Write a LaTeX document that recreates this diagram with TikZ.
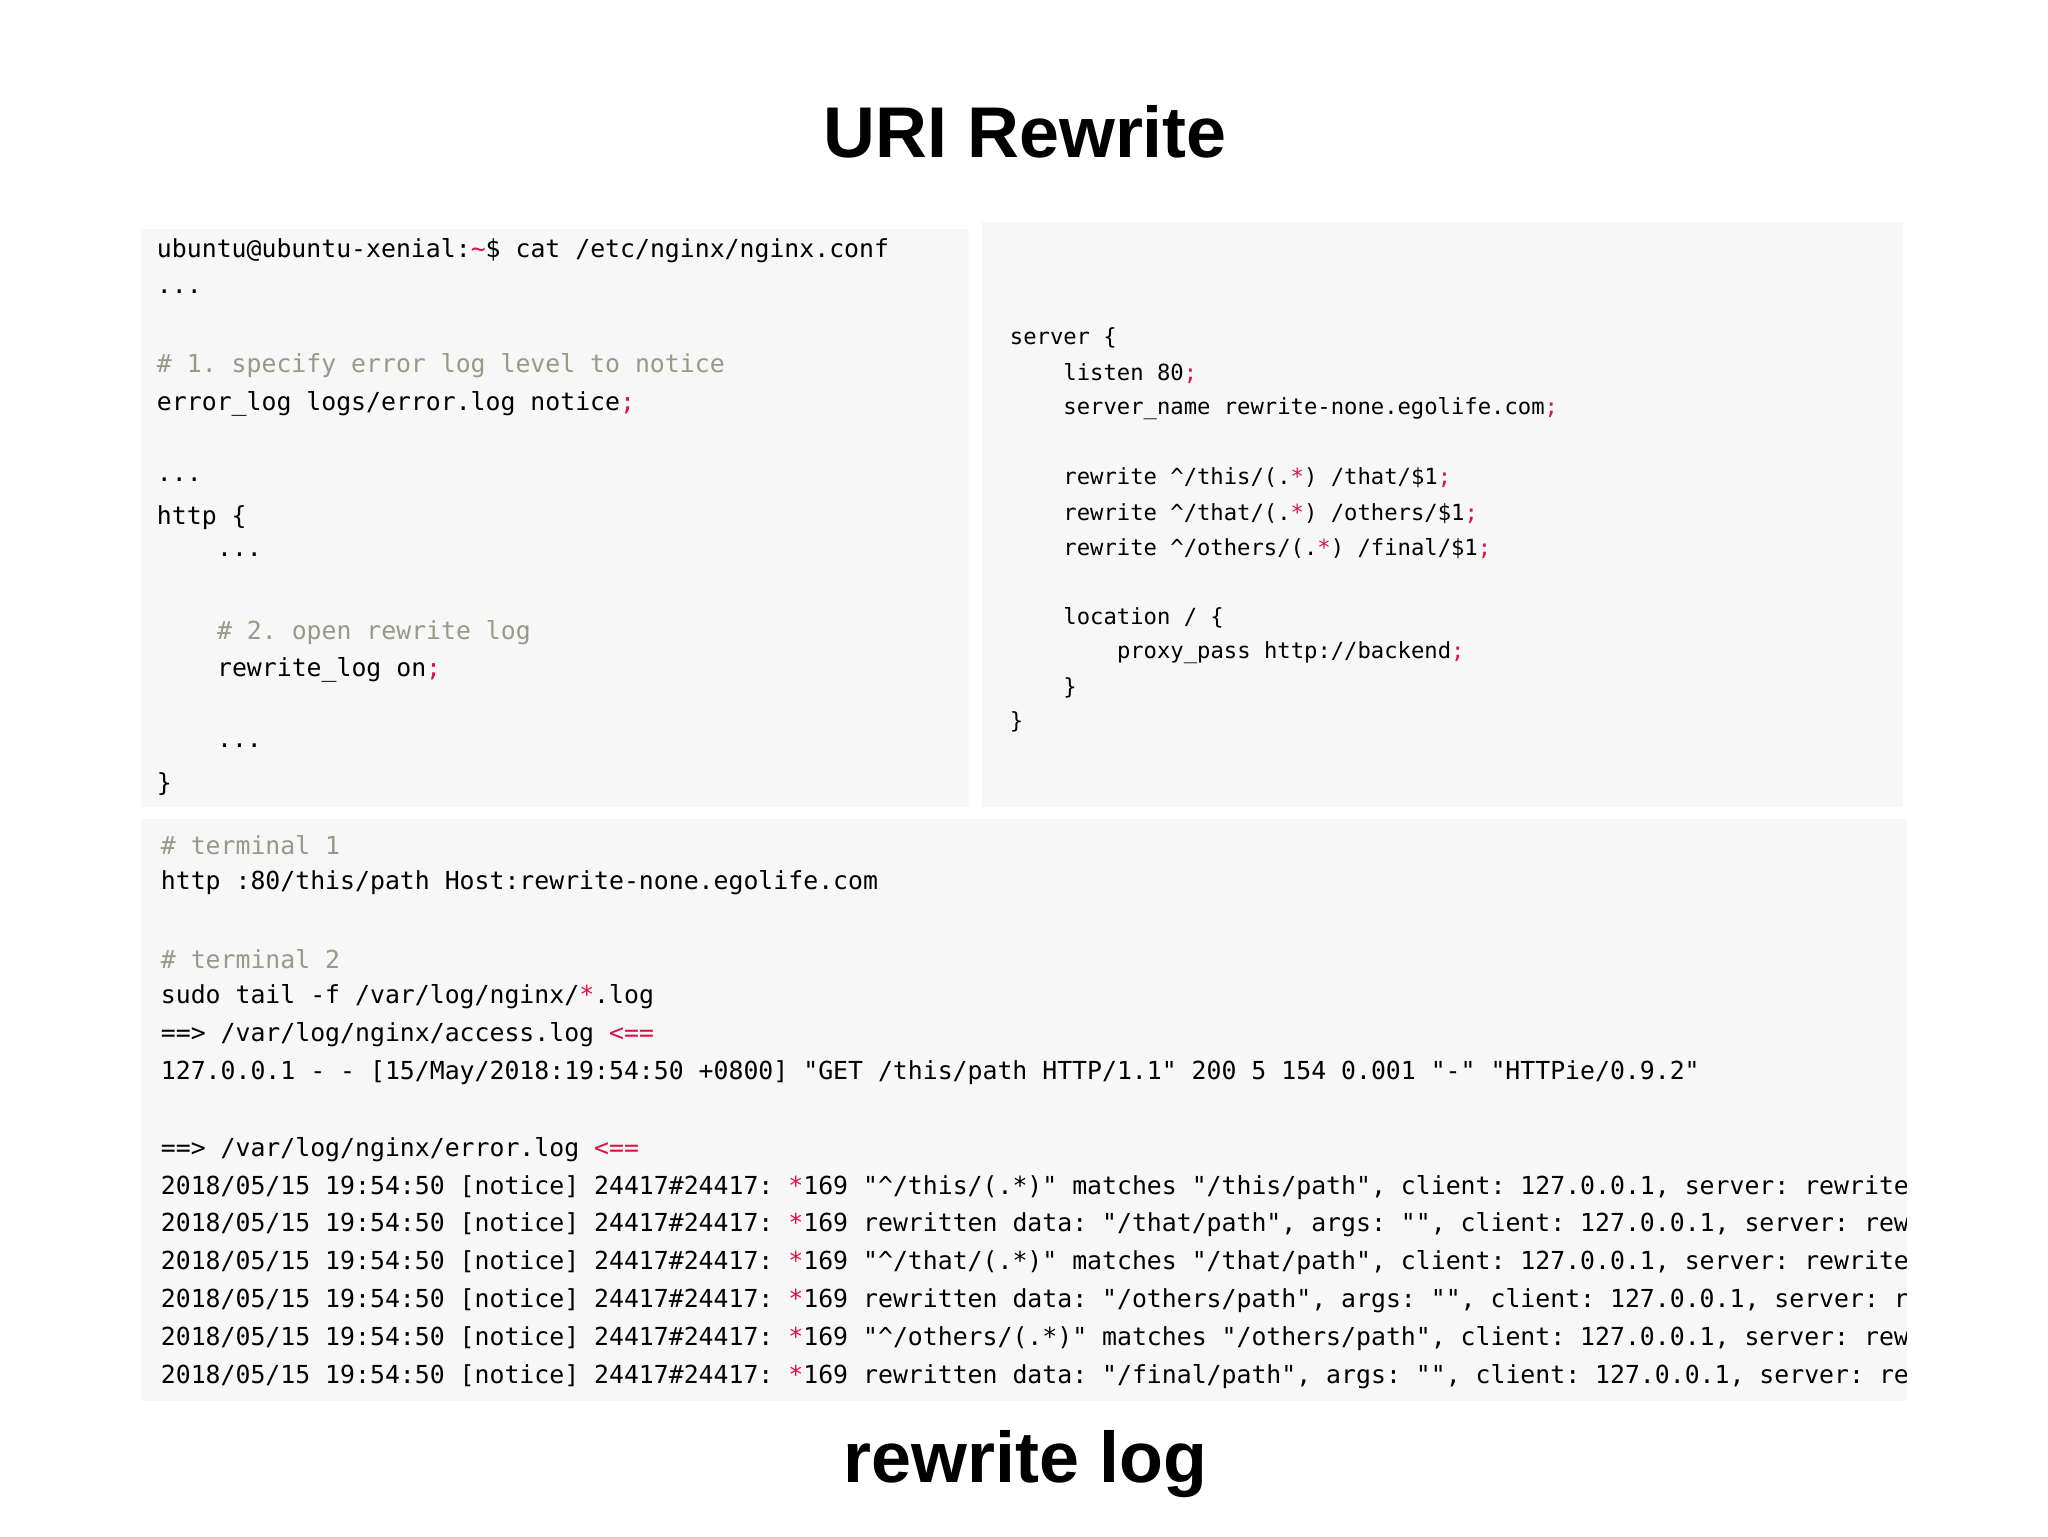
\documentclass[tikz,border=0pt]{standalone}
\usepackage{fontspec}
\setmainfont{Liberation Sans}
\setmonofont{DejaVu Sans Mono}
\definecolor{panel}{HTML}{F7F7F7}
\definecolor{cmt}{HTML}{999988}
\definecolor{rd}{HTML}{DD1144}
\newcommand\R[1]{\textcolor{rd}{#1}}
\newcommand\C[1]{\textcolor{cmt}{#1}}
\newcommand\crt{\textasciicircum}
\begin{document}
\begin{tikzpicture}[x=1pt,y=-1pt,
  pan/.style={fill=panel,draw=none},
  lcode/.style={anchor=west,inner sep=0,font=\fontsize{19}{22}\selectfont\ttfamily},
  rcode/.style={anchor=west,inner sep=0,font=\fontsize{17}{20}\selectfont\ttfamily},
  bcode/.style={anchor=west,inner sep=0,font=\fontsize{19}{22}\selectfont\ttfamily},
  ttl/.style={font=\fontsize{55}{64}\selectfont\bfseries}]
\useasboundingbox (0,0) rectangle (1568,1176);
\fill[white] (0,0) rectangle (1568,1176);
\node[ttl] (title) at (785,101) {URI Rewrite};
\node[ttl] (foot) at (785,1121) {rewrite log};
\fill[pan] (108,175) rectangle (742,618);
\fill[pan] (752,170) rectangle (1457,618);
\fill[pan] (108,627) rectangle (1460,1073);
% left panel
\node[lcode] (l1) at (120,192) {ubuntu@ubuntu-xenial:\R{\textasciitilde}\$ cat /etc/nginx/nginx.conf};
\node[lcode] (l2) at (120,223) {...};
\node[lcode] (l3) at (120,280) {\C{\# 1. specify error log level to notice}};
\node[lcode] (l4) at (120,309) {error\_log logs/error.log notice\R{;}};
\node[lcode] (l5) at (120,367) {...};
\node[lcode] (l6) at (120,396) {http \{};
\node[lcode] (l7) at (166,425) {...};
\node[lcode] (l8) at (166,484) {\C{\# 2. open rewrite log}};
\node[lcode] (l9) at (166,513) {rewrite\_log on\R{;}};
\node[lcode] (l10) at (166,571) {...};
\node[lcode] (l11) at (120,600) {\}};
% right panel
\node[rcode] (r1) at (773,259) {server \{};
\node[rcode] (r2) at (814,286) {listen 80\R{;}};
\node[rcode] (r3) at (814,313) {server\_name rewrite-none.egolife.com\R{;}};
\node[rcode] (r4) at (814,366) {rewrite \crt/this/(.\R{*}) /that/\$1\R{;}};
\node[rcode] (r5) at (814,393) {rewrite \crt/that/(.\R{*}) /others/\$1\R{;}};
\node[rcode] (r6) at (814,420) {rewrite \crt/others/(.\R{*}) /final/\$1\R{;}};
\node[rcode] (r7) at (814,473) {location / \{};
\node[rcode] (r8) at (855,500) {proxy\_pass http://backend\R{;}};
\node[rcode] (r9) at (814,527) {\}};
\node[rcode] (r10) at (773,553) {\}};
% bottom panel
\begin{scope}
\clip (108,627) rectangle (1460,1073);
\node[bcode] (b1) at (123,647) {\C{\# terminal 1}};
\node[bcode] (b2) at (123,676) {http :80/this/path Host:rewrite-none.egolife.com};
\node[bcode] (b3) at (123,734) {\C{\# terminal 2}};
\node[bcode] (b4) at (123,763) {sudo tail -f /var/log/nginx/\R{*}.log};
\node[bcode] (b5) at (123,792) {==> /var/log/nginx/access.log \R{<==}};
\node[bcode] (b6) at (123,821) {127.0.0.1 - - [15/May/2018:19:54:50 +0800] "GET /this/path HTTP/1.1" 200 5 154 0.001 "-" "HTTPie/0.9.2"};
\node[bcode] (b7) at (123,880) {==> /var/log/nginx/error.log \R{<==}};
\node[bcode] (b8) at (123,909) {2018/05/15 19:54:50 [notice] 24417\#24417: \R{*}169 "\crt/this/(.*)" matches "/this/path", client: 127.0.0.1, server: rewrite-none.egolife.com};
\node[bcode] (b9) at (123,938) {2018/05/15 19:54:50 [notice] 24417\#24417: \R{*}169 rewritten data: "/that/path", args: "", client: 127.0.0.1, server: rewrite-none};
\node[bcode] (b10) at (123,967) {2018/05/15 19:54:50 [notice] 24417\#24417: \R{*}169 "\crt/that/(.*)" matches "/that/path", client: 127.0.0.1, server: rewrite-none.egolife.com};
\node[bcode] (b11) at (123,996) {2018/05/15 19:54:50 [notice] 24417\#24417: \R{*}169 rewritten data: "/others/path", args: "", client: 127.0.0.1, server: rewrite-none};
\node[bcode] (b12) at (123,1025) {2018/05/15 19:54:50 [notice] 24417\#24417: \R{*}169 "\crt/others/(.*)" matches "/others/path", client: 127.0.0.1, server: rewrite-none};
\node[bcode] (b13) at (123,1054) {2018/05/15 19:54:50 [notice] 24417\#24417: \R{*}169 rewritten data: "/final/path", args: "", client: 127.0.0.1, server: rewrite-none};
\end{scope}
\end{tikzpicture}
\end{document}
